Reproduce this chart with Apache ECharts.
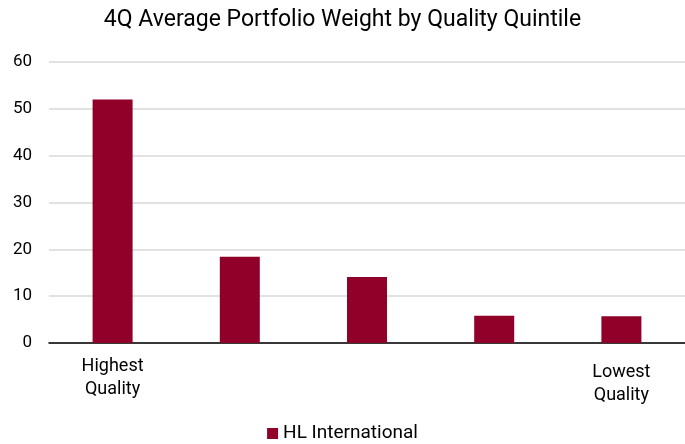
<!DOCTYPE html>
<html>
<head>
<meta charset="utf-8">
<script src="https://cdn.jsdelivr.net/npm/echarts@6/dist/echarts.min.js"></script>
<style>
  html, body { margin: 0; padding: 0; background: #fff; }
  #chart { width: 685px; height: 444px; }
</style>
</head>
<body>
<div id="chart"></div>
<script>
// quintile labels (only the two ends are labelled in the source)
const categories = ['Highest\nQuality', '', '', '', 'Lowest\nQuality'];
const hlInternational = [52, 18.4, 14.1, 5.8, 5.7];
const seriesName = 'HL International';

const chart = echarts.init(document.getElementById('chart'));

// the last label sits a little lower in the original
const categoryData = categories.map((c, i) =>
  i === categories.length - 1
    ? { value: c, textStyle: { padding: [6, 0, 0, 0] } }
    : c
);

const options = {
  animation: false,
  title: {
    text: '4Q Average Portfolio Weight by Quality Quintile',
    left: 'center',
    top: 4,
    textStyle: {
      fontFamily: 'Roboto',
      fontWeight: 'normal',
      fontSize: 23,
      color: '#000',
    },
  },
  legend: {
    data: [{ name: seriesName, icon: 'rect' }],
    bottom: -4,
    left: 'center',
    itemWidth: 11,
    itemHeight: 11,
    itemGap: 4,
    textStyle: { fontFamily: 'Roboto', fontSize: 19, color: '#000' },
  },
  grid: {
    left: 49,
    right: -4,
    top: 62,
    bottom: 101,
  },
  xAxis: {
    type: 'category',
    data: categoryData,
    axisLine: { lineStyle: { color: '#000', width: 1.5 } },
    axisTick: { length: 6, lineStyle: { color: '#000', width: 1.5 } },
    axisLabel: {
      fontFamily: 'Roboto',
      fontSize: 18,
      color: '#000',
      lineHeight: 23,
      margin: 12,
    },
  },
  yAxis: {
    type: 'value',
    min: 0,
    max: 60,
    interval: 10,
    axisLine: { show: false },
    axisTick: { show: false },
    axisLabel: {
      fontFamily: 'Roboto',
      fontSize: 17,
      color: '#000',
      margin: 17,
    },
    splitLine: { lineStyle: { color: '#d9d9d9', width: 1.5 } },
  },
  series: [
    {
      name: seriesName,
      type: 'bar',
      data: hlInternational,
      barWidth: 40,
      itemStyle: { color: '#900029' },
    },
  ],
};

chart.setOption(options);
</script>
</body>
</html>
